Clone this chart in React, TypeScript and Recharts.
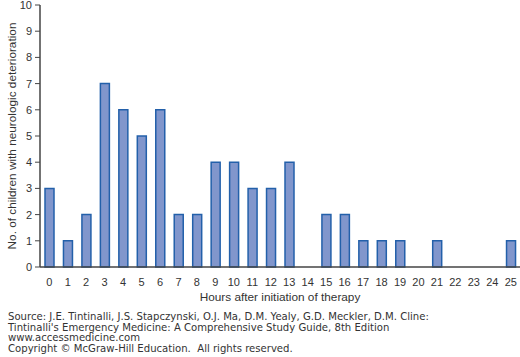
import { BarChart, Bar, XAxis, YAxis, Label } from "recharts"

const hours = [
  "0", "1", "2", "3", "4", "5", "6", "7", "8", "9", "10", "11", "12",
  "13", "14", "15", "16", "17", "18", "19", "20", "21", "22", "23", "24", "25",
]
const children = [3, 1, 2, 7, 6, 5, 6, 2, 2, 4, 4, 3, 3, 4, 0, 2, 2, 1, 1, 1, 0, 1, 0, 0, 0, 1]
const yTicks = [0, 1, 2, 3, 4, 5, 6, 7, 8, 9, 10]
const sourceLines = [
  "Source: J.E. Tintinalli, J.S. Stapczynski, O.J. Ma, D.M. Yealy, G.D. Meckler, D.M. Cline:",
  "Tintinalli's Emergency Medicine: A Comprehensive Study Guide, 8th Edition",
  "www.accessmedicine.com",
  "Copyright © McGraw-Hill Education.  All rights reserved.",
]

export default function App() {
  const data = hours.map((h, i) => ({ hour: h, value: children[i] }))
  const axisFont = { fontFamily: "Liberation Sans, Arial, sans-serif", fontSize: 11, fill: "#333" }

  return (
    <div style={{ position: "absolute", left: 0, top: 0, width: 520, height: 357, background: "#fff" }}>
      <BarChart
        width={520}
        height={310}
        data={data}
        margin={{ top: 5, right: 0, bottom: 0, left: 0 }}
        barCategoryGap={0}
      >
        <XAxis
          dataKey="hour"
          interval={0}
          tickLine={false}
          axisLine={{ stroke: "#444", strokeWidth: 1.5 }}
          tick={axisFont}
          tickMargin={5}
          height={43}
        >
          <Label
            value="Hours after initiation of therapy"
            position="insideBottom"
            offset={9}
            style={{ ...axisFont, fontSize: 11.8 }}
          />
        </XAxis>
        <YAxis
          domain={[0, 10]}
          ticks={yTicks}
          interval={0}
          width={40}
          tickSize={5}
          tickLine={{ stroke: "#444" }}
          axisLine={{ stroke: "#444", strokeWidth: 1.5 }}
          tick={axisFont}
          tickMargin={3}
        >
          <Label
            value="No. of children with neurologic deterioration"
            angle={-90}
            position="insideLeft"
            offset={12}
            style={{ ...axisFont, fontSize: 11.8, textAnchor: "middle" }}
          />
        </YAxis>
        <Bar
          dataKey="value"
          barSize={9}
          fill="#8196cc"
          stroke="#2360aa"
          strokeWidth={1.5}
          isAnimationActive={false}
        />
      </BarChart>
      <div
        style={{
          position: "absolute",
          left: 8,
          top: 312,
          fontFamily: "DejaVu Sans, Verdana, sans-serif",
          fontSize: 10.1,
          lineHeight: "10.6px",
          color: "#333",
          whiteSpace: "pre",
        }}
      >
        {sourceLines.map((l, i) => (
          <div key={i}>{l}</div>
        ))}
      </div>
    </div>
  )
}
